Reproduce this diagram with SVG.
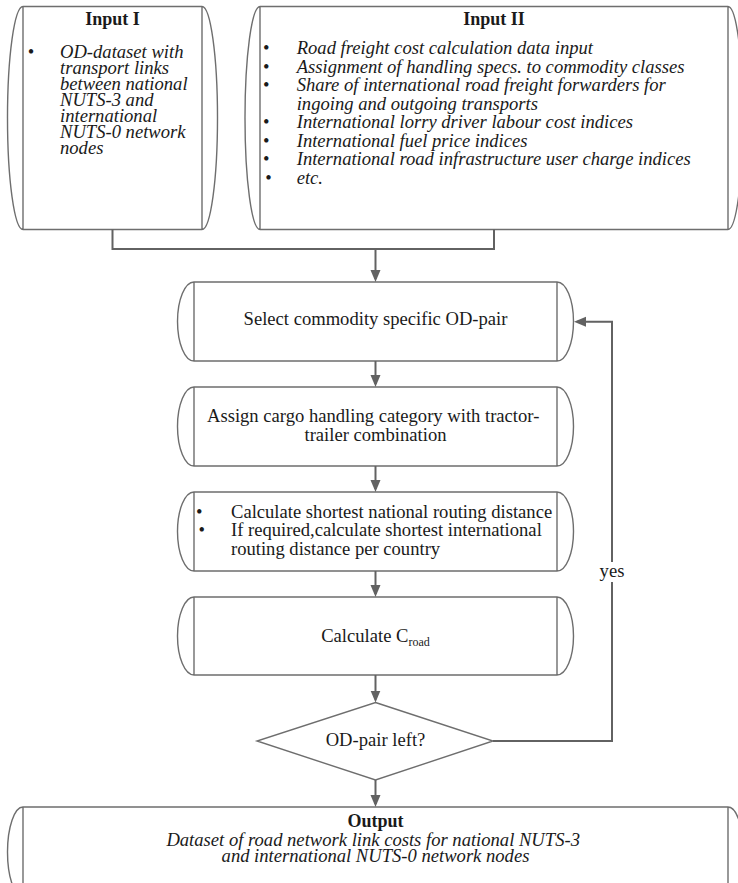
<svg xmlns="http://www.w3.org/2000/svg" width="738" height="883" viewBox="0 0 738 883">
  <style>
    .shape { fill: #ffffff; stroke: #6e6e6e; stroke-width: 1.4; }
    .edge { fill: none; stroke: #626262; stroke-width: 2; }
    text { font-family: "Liberation Serif", "Times New Roman", serif; font-size: 18.6px; fill: #1a1a1a; }
    .title { font-weight: bold; text-anchor: middle; font-size: 18px; }
    .it { font-style: italic; }
    .mid { text-anchor: middle; }
  </style>
  <defs>
    <marker id="arrow" viewBox="0 0 12 12" refX="9" refY="6" markerWidth="12" markerHeight="12" markerUnits="userSpaceOnUse" orient="auto">
      <path d="M0,1 L12,6 L0,11 Z" fill="#626262"/>
    </marker>
  </defs>

  <rect width="738" height="883" fill="#ffffff"/>

  <!-- Input I -->
  <g id="input1">
    <path class="shape" d="M23,6.5 H202 A15.5,111.5 0 0 1 202,229.5 H23 A15.5,111.5 0 0 1 23,6.5 Z M23,6.5 V229.5 M202,6.5 V229.5"/>
    <text class="title" x="112.5" y="25">Input I</text>
    <text class="mid" x="31" y="57.5">•</text>
    <text class="it">
      <tspan x="60" y="57.5">OD-dataset with</tspan>
      <tspan x="60" y="73.5">transport links</tspan>
      <tspan x="60" y="89.5">between national</tspan>
      <tspan x="60" y="105.5">NUTS-3 and</tspan>
      <tspan x="60" y="121.5">international</tspan>
      <tspan x="60" y="137.5">NUTS-0 network</tspan>
      <tspan x="60" y="153.5">nodes</tspan>
    </text>
  </g>

  <!-- Input II -->
  <g id="input2">
    <path class="shape" d="M260,6.5 H728 A15,111.5 0 0 1 728,229.5 H260 A15,111.5 0 0 1 260,6.5 Z M260,6.5 V229.5 M728,6.5 V229.5"/>
    <text class="title" x="494" y="25">Input II</text>
    <text class="mid">
      <tspan x="268.5" y="54.3">•</tspan>
      <tspan x="268.5" y="72.7">•</tspan>
      <tspan x="268.5" y="91">•</tspan>
      <tspan x="268.5" y="128">•</tspan>
      <tspan x="268.5" y="146.5">•</tspan>
      <tspan x="268.5" y="165">•</tspan>
      <tspan x="268.5" y="183.5">•</tspan>
    </text>
    <text class="it">
      <tspan x="296.7" y="54.3">Road freight cost calculation data input</tspan>
      <tspan x="296.7" y="72.7">Assignment of handling specs. to commodity classes</tspan>
      <tspan x="296.7" y="91">Share of international road freight forwarders for</tspan>
      <tspan x="296.7" y="109.5">ingoing and outgoing transports</tspan>
      <tspan x="296.7" y="128">International lorry driver labour cost indices</tspan>
      <tspan x="296.7" y="146.5">International fuel price indices</tspan>
      <tspan x="296.7" y="165">International road infrastructure user charge indices</tspan>
      <tspan x="296.7" y="183.5">etc.</tspan>
    </text>
  </g>

  <!-- Select OD-pair -->
  <g id="select">
    <path class="shape" d="M194,282 H557 A16.5,39.5 0 0 1 557,361 H194 A16.5,39.5 0 0 1 194,282 Z M194,282 V361 M557,282 V361"/>
    <text class="mid" x="375.5" y="325.3">Select commodity specific OD-pair</text>
  </g>

  <!-- Cargo handling category -->
  <g id="assign">
    <path class="shape" d="M194,387 H557 A16.5,39.5 0 0 1 557,466 H194 A16.5,39.5 0 0 1 194,387 Z M194,387 V466 M557,387 V466"/>
    <text class="mid">
      <tspan x="375.5" y="421.7">Assign cargo handling category with tractor-</tspan>
      <tspan x="375.5" y="440.7">trailer combination</tspan>
    </text>
  </g>

  <!-- Routing distances -->
  <g id="routing">
    <path class="shape" d="M194,492 H557 A16.5,39.5 0 0 1 557,571 H194 A16.5,39.5 0 0 1 194,492 Z M194,492 V571 M557,492 V571"/>
    <text class="mid">
      <tspan x="201.7" y="517.7">•</tspan>
      <tspan x="201.7" y="536">•</tspan>
    </text>
    <text>
      <tspan x="231" y="517.7">Calculate shortest national routing distance</tspan>
      <tspan x="231" y="536">If required,calculate shortest international</tspan>
      <tspan x="231" y="555">routing distance per country</tspan>
    </text>
  </g>

  <!-- Cost calculation -->
  <g id="calc">
    <path class="shape" d="M194,597 H557 A16.5,39 0 0 1 557,675 H194 A16.5,39 0 0 1 194,597 Z M194,597 V675 M557,597 V675"/>
    <text class="mid" x="375.5" y="641.7">Calculate C<tspan font-size="12" dy="4">road</tspan></text>
  </g>

  <!-- Decision -->
  <g id="decision">
    <polygon class="shape" points="375.5,702.5 493,741 375.5,780 257,741"/>
    <text class="mid" x="375.5" y="746">OD-pair left?</text>
  </g>

  <!-- Output -->
  <g id="output">
    <path class="shape" d="M23,807 H728 A15.5,45 0 0 1 728,897 H23 A15.5,45 0 0 1 23,807 Z M23,807 V897 M728,807 V897"/>
    <text class="title" x="375.5" y="826.5">Output</text>
    <text class="it mid">
      <tspan x="375.5" y="846">Dataset of road network link costs for national NUTS-3</tspan>
      <tspan x="375.5" y="862">and international NUTS-0 network nodes</tspan>
    </text>
  </g>

  <!-- Connectors -->
  <g id="connectors">
    <path class="edge" d="M112.5,229.5 V249 H494 V229.5"/>
    <path class="edge" d="M375.5,249 V279" marker-end="url(#arrow)"/>
    <path class="edge" d="M375.5,361 V384" marker-end="url(#arrow)"/>
    <path class="edge" d="M375.5,466 V489" marker-end="url(#arrow)"/>
    <path class="edge" d="M375.5,571 V594" marker-end="url(#arrow)"/>
    <path class="edge" d="M375.5,675 V699.5" marker-end="url(#arrow)"/>
    <path class="edge" d="M375.5,780 V804" marker-end="url(#arrow)"/>
    <path class="edge" d="M493,741 H612 V321.7 H577" marker-end="url(#arrow)"/>
    <rect x="600" y="562" width="24" height="20" fill="#ffffff"/>
    <text class="mid" x="612" y="577">yes</text>
  </g>
</svg>
